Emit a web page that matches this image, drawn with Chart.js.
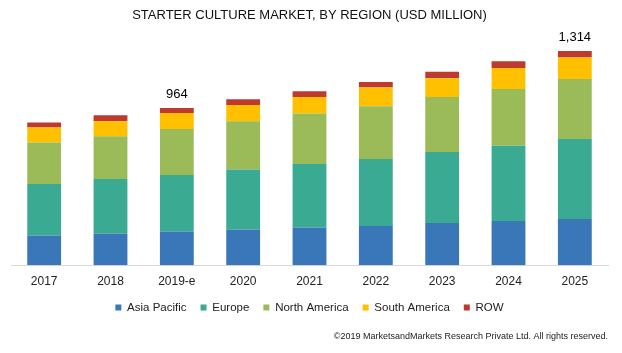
<!DOCTYPE html>
<html>
<head>
<meta charset="utf-8">
<title>Starter Culture Market</title>
<script src="https://cdn.jsdelivr.net/npm/chart.js@4/dist/chart.umd.min.js"></script>
<style>
    html, body { margin: 0; padding: 0; background: #fff; }
    #container { width: 622px; height: 353px; }
</style>
</head>
<body>
<div id="container"><canvas id="marketChart"></canvas></div>
<script>
var annees = ['2017', '2018', '2019-e', '2020', '2021', '2022', '2023', '2024', '2025'];
var asiaPacific = [182, 194, 207, 219, 231, 241, 259, 272, 284];
var europe = [316, 335, 347, 368, 390, 411, 435, 460, 490];
var northAmerica = [254, 262, 282, 296, 309, 323, 337, 349, 368];
var southAmerica = [92, 92, 98, 100, 102, 115, 115, 129, 131];
var row = [31, 37, 30, 35, 35, 34, 41, 41, 41];
// totaux affichés au-dessus de certaines barres
var totauxAffiches = { 2: '964', 8: '1,314' };

var couleurs = ['#3a77b9', '#3aaa92', '#9bbb59', '#ffc000', '#be3a2e'];

function creerDataset(label, valeurs, couleur)
{
    return {
        label: label,
        data: valeurs,
        backgroundColor: couleur,
        borderWidth: 0,
        categoryPercentage: 1,
        barPercentage: 0.51
    };
}

var pluginTotaux = {
    id: 'totaux',
    afterDatasetsDraw: function (chart) {
        var ctx = chart.ctx,
            y = chart.scales.y,
            x = chart.scales.x;
        ctx.save();
        ctx.font = '13px "Liberation Sans", Arial, sans-serif';
        ctx.fillStyle = '#000';
        ctx.textAlign = 'center';
        ctx.textBaseline = 'bottom';
        Object.keys(totauxAffiches).forEach(function (idx) {
            var total = 0;
            chart.data.datasets.forEach(function (ds) {
                total += ds.data[idx];
            });
            ctx.fillText(totauxAffiches[idx], x.getPixelForValue(parseInt(idx)), y.getPixelForValue(total) - 7);
        });
        ctx.restore();
    }
};

var ctx = document.getElementById('marketChart');
var marketChart = new Chart(ctx, {
    type: 'bar',
    data: {
        labels: annees,
        datasets: [
            creerDataset('Asia Pacific', asiaPacific, couleurs[0]),
            creerDataset('Europe', europe, couleurs[1]),
            creerDataset('North America', northAmerica, couleurs[2]),
            creerDataset('South America', southAmerica, couleurs[3]),
            creerDataset('ROW', row, couleurs[4])
        ]
    },
    options: {
        responsive: true,
        maintainAspectRatio: false,
        animation: false,
        layout: {
            padding: { left: 11, right: 14, top: 0, bottom: 5 }
        },
        scales: {
            x: {
                stacked: true,
                grid: { display: false, drawTicks: false },
                border: { display: true, color: '#d9d9d9', width: 1 },
                ticks: {
                    color: '#222',
                    padding: 9,
                    font: { family: '"Liberation Sans", Arial, sans-serif', size: 12 }
                },
                // rapproche la légende des libellés
                afterFit: function (scale) {
                    scale.height -= 10;
                }
            },
            y: {
                stacked: true,
                display: false,
                min: 0,
                max: 1365
            }
        },
        plugins: {
            title: {
                display: true,
                text: 'STARTER CULTURE MARKET, BY REGION (USD MILLION)',
                color: '#111',
                font: { family: '"Liberation Sans", Arial, sans-serif', size: 13, weight: 'normal' },
                padding: { top: 8, bottom: 19 }
            },
            subtitle: {
                display: true,
                position: 'bottom',
                align: 'end',
                text: '\u00a92019 MarketsandMarkets Research Private Ltd. All rights reserved.',
                color: '#222',
                font: { family: '"Liberation Sans", Arial, sans-serif', size: 9 },
                padding: { top: 8, bottom: 6 }
            },
            legend: {
                position: 'bottom',
                labels: {
                    boxWidth: 6,
                    boxHeight: 6,
                    padding: 14,
                    color: '#222',
                    font: { family: '"Liberation Sans", Arial, sans-serif', size: 11.5 }
                }
            },
            tooltip: { enabled: false }
        }
    },
    plugins: [pluginTotaux]
});
</script>
</body>
</html>
